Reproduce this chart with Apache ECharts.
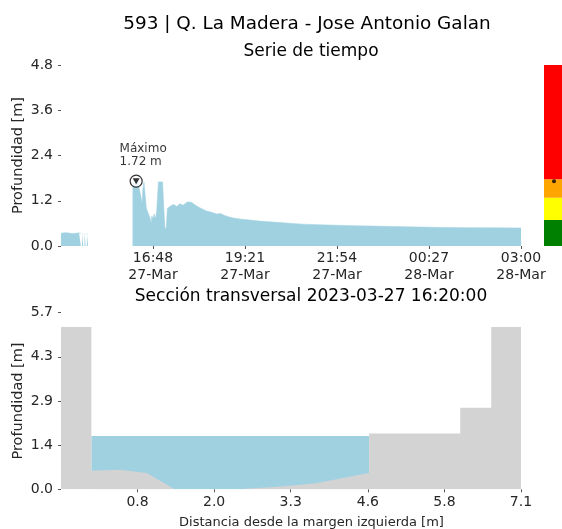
<!DOCTYPE html>
<html>
<head>
<meta charset="utf-8">
<script src="https://cdn.jsdelivr.net/npm/echarts@6/dist/echarts.min.js"></script>
<style>html,body{margin:0;padding:0;background:#fff}#c{width:562px;height:529px}</style>
</head>
<body>
<div id="c"></div>
<script>
// ---- Time series (top) ----
const seriesTimes = [
 '2023-03-27 14:15','2023-03-27 14:20','2023-03-27 14:25','2023-03-27 14:30','2023-03-27 14:35','2023-03-27 14:40','2023-03-27 14:45','2023-03-27 14:48','2023-03-27 14:49',
 '2023-03-27 14:50','2023-03-27 14:52','2023-03-27 14:53','2023-03-27 14:54','2023-03-27 14:56','2023-03-27 14:57','2023-03-27 14:58','2023-03-27 15:00','2023-03-27 15:01',
 '2023-03-27 16:14','2023-03-27 16:17','2023-03-27 16:20','2023-03-27 16:23','2023-03-27 16:26','2023-03-27 16:28','2023-03-27 16:30','2023-03-27 16:31','2023-03-27 16:33',
 '2023-03-27 16:36','2023-03-27 16:37','2023-03-27 16:40','2023-03-27 16:43','2023-03-27 16:45','2023-03-27 16:46','2023-03-27 16:48','2023-03-27 16:50','2023-03-27 16:52',
 '2023-03-27 16:54','2023-03-27 16:57','2023-03-27 17:00','2023-03-27 17:04','2023-03-27 17:06','2023-03-27 17:08','2023-03-27 17:10','2023-03-27 17:12','2023-03-27 17:15',
 '2023-03-27 17:19','2023-03-27 17:23','2023-03-27 17:27','2023-03-27 17:33','2023-03-27 17:38','2023-03-27 17:41','2023-03-27 17:45','2023-03-27 17:48','2023-03-27 17:52',
 '2023-03-27 17:57','2023-03-27 18:02','2023-03-27 18:09','2023-03-27 18:17','2023-03-27 18:24','2023-03-27 18:30','2023-03-27 18:34','2023-03-27 18:37','2023-03-27 18:41',
 '2023-03-27 18:47','2023-03-27 18:55','2023-03-27 19:02','2023-03-27 19:15','2023-03-27 19:29','2023-03-27 19:45','2023-03-27 20:00','2023-03-27 20:20','2023-03-27 20:40',
 '2023-03-27 20:57','2023-03-27 21:25','2023-03-27 21:54','2023-03-27 22:20','2023-03-27 22:49','2023-03-27 23:30','2023-03-28 00:29','2023-03-28 01:00','2023-03-28 01:35',
 '2023-03-28 02:15','2023-03-28 03:00'
];
const seriesDepths = [
 0.34,0.35,0.35,0.34,0.33,0.34,0.35,0.34,null,
 0.32,0.32,null,0.32,0.32,null,0.32,0.32,null,
 1.62,1.70,1.72,1.69,1.67,1.30,1.14,1.50,1.70,
 1.70,1.00,0.87,0.75,0.60,0.80,0.72,0.85,0.72,
 0.90,1.70,1.68,1.70,1.00,0.44,0.50,1.00,1.04,
 1.08,1.10,1.05,1.12,1.08,1.05,1.17,1.22,1.16,
 1.10,1.05,0.99,0.93,0.90,0.87,0.85,0.88,0.86,
 0.81,0.77,0.74,0.71,0.69,0.66,0.645,0.62,0.60,
 0.58,0.565,0.55,0.54,0.53,0.515,0.50,0.49,0.485,
 0.482,0.48
];
const maxTime = '2023-03-27 16:20';
const maxDepth = 1.72;
const timeRange = ['2023-03-27 14:15', '2023-03-28 03:00'];
const timeTicks = ['2023-03-27 16:48','2023-03-27 19:21','2023-03-27 21:54','2023-03-28 00:27','2023-03-28 03:00'];

// ---- Alert levels (colour bar) ----
const levelBounds = [0, 0.69, 1.28, 1.77, 4.8];
const levelColors = ['#008000', '#ffff00', '#ffa500', '#ff0000'];
const currentLevel = 1.72;

// ---- Cross section (bottom) ----
const bedX = [-0.47, 0.03, 0.03, 0.5, 0.94, 1.4, 2.4, 3.1, 3.7, 4.6, 4.6, 6.1, 6.1, 6.61, 6.61, 7.1];
const bedY = [5.24, 5.24, 0.60, 0.63, 0.53, 0.0, 0.0, 0.08, 0.19, 0.53, 1.80, 1.80, 2.63, 2.63, 5.24, 5.24];
const waterX = [0.03, 4.6];
const waterLevel = 1.72;
const distTicks = [0.79, 2.05, 3.31, 4.58, 5.84, 7.1];
const sectionMax = 5.7;

function toMs(s) {
  const [d, t] = s.split(' ');
  const [Y, M, D] = d.split('-').map(Number);
  const [h, m] = t.split(':').map(Number);
  return Date.UTC(Y, M - 1, D, h, m);
}
const MONTHS = ['Jan','Feb','Mar','Apr','May','Jun','Jul','Aug','Sep','Oct','Nov','Dec'];
function fmtTime(v) {
  const d = new Date(v);
  const p = n => String(n).padStart(2, '0');
  return p(d.getUTCHours()) + ':' + p(d.getUTCMinutes()) + '\n' + p(d.getUTCDate()) + '-' + MONTHS[d.getUTCMonth()];
}

const tsData = seriesTimes.map((t, i) => [toMs(t), seriesDepths[i] === null ? '-' : seriesDepths[i]]);
const bedData = bedX.map((x, i) => [x, bedY[i]]);
const waterData = waterX.map(x => [x, waterLevel]);

const TXT = '#262626';
const TICK = '#555';
const FONT = 'DejaVu Sans';
const BLUE = '#9fd1e0';
const GRAY = '#d3d3d3';

const chart = echarts.init(document.getElementById('c'), null, {renderer: 'canvas'});
const levelSeries = levelColors.map((c, i) => ({
  type: 'bar', xAxisIndex: 2, yAxisIndex: 2, stack: 'lv', barWidth: '100%',
  data: [levelBounds[i + 1] - levelBounds[i]], itemStyle: {color: c}, silent: true
}));

const tickStyle = {show: true, length: 3, lineStyle: {color: TICK}};
chart.setOption({
  animation: false,
  textStyle: {fontFamily: FONT},
  graphic: [
    {type: 'text', x: 307, y: 15, style: {text: '593 | Q. La Madera - Jose Antonio Galan', font: '18.4px "DejaVu Sans"', fill: '#000', align: 'center', verticalAlign: 'top'}},
    {type: 'text', x: 311, y: 43, style: {text: 'Serie de tiempo', font: '17px "DejaVu Sans"', fill: '#000', align: 'center', verticalAlign: 'top'}},
    {type: 'text', x: 311, y: 288, style: {text: 'Sección transversal 2023-03-27 16:20:00', font: '17px "DejaVu Sans"', fill: '#000', align: 'center', verticalAlign: 'top'}}
  ],
  grid: [
    {left: 61, top: 65, width: 460, height: 181, outerBoundsMode: 'none', containLabel: false},
    {left: 61, top: 312.7, width: 460, height: 176.6, outerBoundsMode: 'none', containLabel: false},
    {left: 544, top: 65, width: 20, height: 181, outerBoundsMode: 'none', containLabel: false}
  ],
  xAxis: [
    {type: 'value', gridIndex: 0, min: toMs(timeRange[0]), max: toMs(timeRange[1]),
     axisLine: {show: false, onZero: false}, splitLine: {show: false},
     axisTick: Object.assign({customValues: timeTicks.map(toMs)}, tickStyle),
     axisLabel: {customValues: timeTicks.map(toMs), formatter: fmtTime, color: TXT, fontSize: 14, lineHeight: 17, margin: 4, fontFamily: FONT}},
    {type: 'value', gridIndex: 1, min: -0.47, max: 7.1,
     axisLine: {show: false, onZero: false}, splitLine: {show: false},
     axisTick: Object.assign({customValues: distTicks}, tickStyle),
     axisLabel: {customValues: distTicks, formatter: v => v.toFixed(1), color: TXT, fontSize: 14, margin: 6, fontFamily: FONT},
     name: 'Distancia desde la margen izquierda [m]', nameLocation: 'middle', nameGap: 27,
     nameTextStyle: {color: TXT, fontSize: 13, fontFamily: FONT, padding: [0, 0, 0, 41]}},
    {type: 'category', gridIndex: 2, data: [''], show: false}
  ],
  yAxis: [
    {type: 'value', gridIndex: 0, min: 0, max: 4.8, interval: 1.2,
     axisLine: {show: false, onZero: false}, splitLine: {show: false},
     axisTick: tickStyle,
     axisLabel: {formatter: v => v.toFixed(1), color: TXT, fontSize: 14, margin: 8, fontFamily: FONT},
     name: 'Profundidad [m]', nameLocation: 'middle', nameGap: 35, nameRotate: 90, nameMoveOverlap: false,
     nameTextStyle: {color: TXT, fontSize: 14.5, fontFamily: FONT}},
    {type: 'value', gridIndex: 1, min: 0, max: sectionMax, interval: sectionMax / 4,
     axisLine: {show: false, onZero: false}, splitLine: {show: false},
     axisTick: tickStyle,
     axisLabel: {formatter: v => v.toFixed(1), color: TXT, fontSize: 14, margin: 8, fontFamily: FONT},
     name: 'Profundidad [m]', nameLocation: 'middle', nameGap: 35, nameRotate: 90, nameMoveOverlap: false,
     nameTextStyle: {color: TXT, fontSize: 14.5, fontFamily: FONT}},
    {type: 'value', gridIndex: 2, min: 0, max: 4.8, show: false}
  ],
  series: [
    {type: 'line', xAxisIndex: 0, yAxisIndex: 0, data: tsData, showSymbol: false, symbol: 'none',
     connectNulls: false, lineStyle: {width: 0.5, color: BLUE}, areaStyle: {color: BLUE, opacity: 1}, silent: true},
    {type: 'scatter', xAxisIndex: 0, yAxisIndex: 0, data: [[toMs(maxTime), maxDepth]], symbol: 'circle', symbolSize: 12,
     itemStyle: {color: '#fff', borderColor: '#000', borderWidth: 1.2}, z: 5, silent: true,
     label: {show: true, formatter: 'Máximo\n' + maxDepth.toFixed(2) + ' m', position: [-10, -32], align: 'left', verticalAlign: 'top',
       color: '#000', fontSize: 12, lineHeight: 13, fontFamily: FONT}},
    {type: 'scatter', xAxisIndex: 0, yAxisIndex: 0, data: [[toMs(maxTime), maxDepth]], symbol: 'triangle', symbolRotate: 180, symbolSize: [7, 6],
     itemStyle: {color: '#000'}, z: 6, silent: true},
    {type: 'line', xAxisIndex: 1, yAxisIndex: 1, data: waterData, symbol: 'none', lineStyle: {width: 0, opacity: 0},
     areaStyle: {color: BLUE, opacity: 1}, z: 1, silent: true},
    {type: 'line', xAxisIndex: 1, yAxisIndex: 1, data: bedData, symbol: 'none', lineStyle: {width: 0, opacity: 0},
     areaStyle: {color: GRAY, opacity: 1}, z: 2, silent: true},
    ...levelSeries,
    {type: 'scatter', xAxisIndex: 2, yAxisIndex: 2, data: [['', currentLevel]], symbol: 'circle', symbolSize: 4,
     itemStyle: {color: '#000'}, z: 5, silent: true}
  ]
});
</script>
</body>
</html>
